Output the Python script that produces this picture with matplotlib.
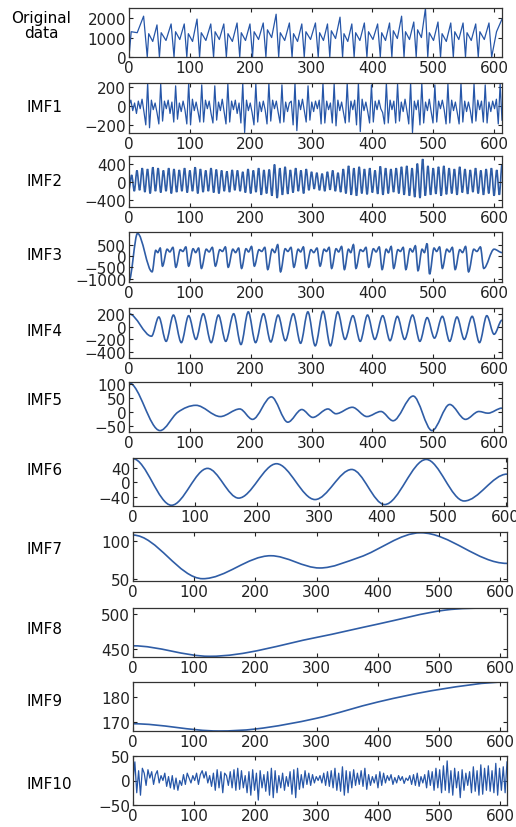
import matplotlib.pyplot as plt
import numpy as np
from matplotlib.path import Path
from matplotlib.patches import PathPatch

plt.rcParams['font.family'] = ['DejaVu Sans']
plt.rcParams['font.size'] = 11

# ---- data ----
# original data: valleys (value 0) and, per cycle, shoulder / dip / peak
orig_valleys = [0, 30, 50, 74, 95, 116, 139, 160, 182, 203, 225, 246, 268, 288, 311,
                330, 351, 370, 391, 413, 432, 452, 472, 491, 512, 533, 553, 574, 596]
orig_shoulder = [1300, 1200, 1250, 1300, 1200, 1250, 1300, 1200, 1250, 1300, 1400, 1250, 1200, 1300,
                 1250, 1350, 1200, 1250, 1300, 1250, 1350, 1300, 1400, 1250, 1200, 1300, 1250, 1300]
orig_dip = [1250, 800, 850, 900, 800, 850, 900, 800, 850, 900, 1000, 850, 800, 900,
            850, 950, 800, 850, 900, 850, 950, 900, 1000, 850, 800, 900, 850, 900]
orig_peak = [2100, 1650, 1700, 1700, 1950, 1700, 1700, 1750, 1700, 1750, 2200, 1750, 1700, 1750,
             1700, 2050, 1700, 1750, 1700, 1750, 2100, 1800, 2500, 1800, 1750, 1750, 1700, 1750]
orig_tail_x = [596, 604, 613]
orig_tail_y = [0, 1300, 1950]

imf1 = [10, 60, -50, 30, -80, 50, -30, 70, -60, -200,
        240, -230, 60, -40, 30, -70, -190, 230, -160, 50,
        -30, 60, -80, 40, -170, 210, -140, 30, -60, 50,
        -40, -190, 240, -200, 70, -50, 40, -60, -170, 220,
        -170, 60, -30, 50, -80, -180, 210, -150, 40, -50,
        70, -60, -190, 230, -170, 50, -40, 60, -80, 30,
        -180, 240, -280, 60, -50, 30, -70, -200, 230, -170,
        40, -60, 50, -40, -190, 240, -160, 60, -30, 50,
        -70, -180, 220, -170, 40, -60, 30, 50, -200, 240,
        -260, 60, -40, 70, -50, -170, 210, -150, 40, -60,
        50, -30, 60, -190, 240, -180, 50, -40, 30, -180,
        230, -210, 60, -50, 40, -70, -180, 240, -170, 50,
        -40, 60, -200, 240, -270, 70, -50, 40, -60, -180,
        220, -170, 50, -40, 60, -30, -70, -190, 240, -180,
        60, -40, 50, -180, 230, -160, 40, -60, 70, -50,
        -190, 240, -280, 50, -40, 60, -200, 240, -180, 40,
        -50, 70, -60, -180, 220, -170, 50, -30, 60, -40,
        -190, 230, -180, 60, -50, 40, -70, -190, 240, -170,
        50, -60, 40, -50, -180, 230, -160, 60, -40, 50,
        -170, 220, -180, 40, -60, 50, -30, 70, -190, 230,
        -150]

imf2_peaks = [150, 250, 300, 280, 320, 300, 250, 300, 280, 260,
              300, 250, 320, 280, 250, 300, 270, 250, 230, 260,
              250, 220, 280, 250, 300, 260, 270, 380, 300, 330,
              260, 300, 250, 280, 220, 200, 180, 220, 250, 200,
              280, 350, 300, 330, 280, 300, 250, 340, 300, 280,
              300, 330, 350, 300, 400, 500, 350, 300, 330, 350,
              300, 280, 330, 280, 260, 300, 250, 280, 300, 260]
imf2_troughs = [-200, -180, -220, -250, -200, -230, -200, -250, -220, -200,
                -230, -200, -250, -220, -200, -230, -250, -200, -220, -180,
                -200, -230, -250, -220, -280, -250, -300, -350, -280, -260,
                -230, -200, -250, -180, -150, -180, -200, -170, -200, -220,
                -250, -280, -300, -250, -270, -230, -260, -280, -250, -220,
                -250, -280, -300, -330, -350, -300, -280, -260, -300, -270,
                -250, -280, -230, -260, -220, -250, -280, -250, -300, -280]
imf2_start, imf2_end = -150, 380

imf3_trough_x = [38, 55, 77, 98, 119, 142, 163, 185, 206, 228, 249, 271, 291, 314,
                 333, 354, 373, 394, 416, 435, 455, 475, 494, 515, 536, 558, 583]
imf3_trough_y = [-700, -450, -500, -450, -550, -450, -500, -550, -450, -600, -700, -500, -550, -450,
                 -550, -600, -550, -500, -600, -550, -600, -650, -800, -550, -600, -700, -550]
imf3_hump1 = [250, 300, 280, 320, 300, 280, 300, 320, 280, 300, 320, 300, 280,
              300, 320, 300, 280, 320, 300, 280, 320, 300, 350, 300, 280, 300]
imf3_dip = [150, 180, 200, 150, 180, 200, 150, 180, 200, 150, 200, 180, 150,
            200, 180, 150, 200, 180, 150, 200, 180, 150, 200, 180, 150, 200]
imf3_hump2 = [350, 380, 400, 350, 380, 400, 350, 420, 380, 500, 380, 400, 350,
              380, 420, 500, 380, 400, 420, 380, 450, 550, 400, 380, 420, 400]
imf3_head_x, imf3_head_y = [0, 14], [-1100, 1000]
imf3_tail_x, imf3_tail_y = [600, 613], [300, 150]

imf4_x = [0, 37, 49, 61, 73, 86, 98, 110, 122, 135, 147, 159, 172, 184, 196, 208, 221, 233,
          245, 257, 270, 282, 294, 306, 319, 331, 343, 355, 368, 380, 392, 404, 417, 429,
          441, 453, 466, 478, 490, 502, 515, 527, 539, 551, 564, 576, 588, 600, 613]
imf4_y = [200, -150, 150, -230, 180, -250, 170, -200, 200, -250, 180, -230, 200, -280, 230, -250,
          200, -240, 180, -220, 200, -260, 230, -300, 240, -300, 230, -200, 170, -230, 180, -200,
          170, -220, 160, -200, 180, -230, 140, -180, 160, -230, 150, -200, 160, -250, 170, -120, 100]

imf5_x = [0, 51, 80, 110, 150, 182, 203, 234, 261, 284, 302, 327, 340, 367, 391, 414,
          434, 467, 498, 527, 553, 575, 590, 613]
imf5_y = [105, -65, 0, 25, -15, 12, -25, 55, -35, 10, -18, 12, -5, 18, -15, 3,
          -30, 58, -65, 28, -25, 3, -3, 15]

imf6_x = [0, 62, 120, 170, 231, 293, 352, 405, 472, 533, 602]
imf6_y = [66, -64, 39, -44, 52, -48, 36, -62, 64, -52, 23]

imf7_x = [0, 114, 225, 305, 370, 470, 611]
imf7_y = [108, 51, 81, 65, 79, 111, 71]

imf8_x = [0, 125, 300, 400, 510, 585, 611]
imf8_y = [455, 440, 467, 486, 506, 509, 509]

imf9_x = [0, 140, 200, 300, 400, 500, 611]
imf9_y = [169.3, 166.4, 167.2, 171.5, 178, 183, 186]

imf10 = [0, 38, -25, 20, -30, 25, 15, -10, 22, 5,
         18, -8, 12, 20, -5, 10, 0, 15, -12, 8,
         -15, 10, -18, 5, -20, 0, -10, 12, -8, 15,
         5, -5, 10, 0, 15, -8, 12, 20, 5, 18,
         -5, 10, -12, 15, -20, 22, -15, 18, -25, 15,
         10, -10, 18, -15, 22, -20, 25, -18, 20, -15,
         10, -25, 18, -30, 22, -20, 15, -40, 20, -15,
         12, -22, 18, -30, 25, -35, 20, -25, 10, -15,
         15, -20, 8, -12, 18, -28, 22, -35, 25, -18,
         12, -15, 20, -8, 15, -10, 12, -5, 8, 0,
         10, -5, 15, -10, 18, -12, 20, -15, 25, -20,
         15, -22, 28, -30, 20, -25, 18, -15, 22, -10,
         15, -8, 20, -12, 25, -18, 12, -10, 8, -5,
         12, -15, 18, -10, 15, -5, 10, 0, 12, -8,
         6, -5, 10, 0, 8, -6, 5, 0, 10, -8,
         12, -10, 15, -12, 8, -5, 12, -15, 20, -10,
         18, -20, 25, -15, 22, -25, 30, -20, 40, -25,
         20, -30, 25, -15, 18, -35, 22, -20, 15, -10,
         18, -25, 28, -22, 20, -30, 32, -28, 25, -20,
         30, -22, 20, -25, 35, -30, 25, -20, 28, -25,
         38]

names = ['Original\ndata', 'IMF1', 'IMF2', 'IMF3', 'IMF4', 'IMF5',
         'IMF6', 'IMF7', 'IMF8', 'IMF9', 'IMF10']
yticks = [[0, 1000, 2000], [-200, 0, 200], [-400, 0, 400], [-1000, -500, 0, 500],
          [-400, -200, 0, 200], [-50, 0, 50, 100], [-40, 0, 40], [50, 100],
          [450, 500], [170, 180], [-50, 0, 50]]
ylims = [(0, 2520), (-285, 240), (-545, 565), (-1150, 1060), (-490, 290), (-70, 108),
         (-66, 68), (48, 112), (439, 509), (166.4, 186), (-50, 50)]
xmaxs = [613, 613, 613, 613, 613, 613, 602, 611, 611, 611, 611]


# ---- build series ----
ox, oy = [], []
for k in range(len(orig_valleys) - 1):
    v0, v1 = orig_valleys[k], orig_valleys[k + 1]
    w = v1 - v0
    # steep rise to the shoulder, dip, peak, then a steep fall back to 0
    ox += [v0, v0 + 0.12 * w, v0 + 0.45 * w, v0 + 0.8 * w]
    oy += [0, orig_shoulder[k], orig_dip[k], orig_peak[k]]
ox += orig_tail_x
oy += orig_tail_y

i2 = [imf2_start]
for p, t in zip(imf2_peaks, imf2_troughs):
    i2 += [p, t]
i2.append(imf2_end)
i2x = np.linspace(0, 613, len(i2))

i3x, i3y = list(imf3_head_x), list(imf3_head_y)
for k in range(len(imf3_trough_x) - 1):
    t0, t1 = imf3_trough_x[k], imf3_trough_x[k + 1]
    w = t1 - t0
    i3x += [t0, t0 + 0.35 * w, t0 + 0.55 * w, t0 + 0.78 * w]
    i3y += [imf3_trough_y[k], imf3_hump1[k], imf3_dip[k], imf3_hump2[k]]
i3x.append(imf3_trough_x[-1])
i3y.append(imf3_trough_y[-1])
i3x += imf3_tail_x
i3y += imf3_tail_y


def smooth_path(xs, ys):
    # cubic bezier through the read points, flat at turning points
    xs = np.asarray(xs, float)
    ys = np.asarray(ys, float)
    n = len(xs)
    m = np.zeros(n)
    for i in range(1, n - 1):
        s0 = (ys[i] - ys[i - 1]) / (xs[i] - xs[i - 1])
        s1 = (ys[i + 1] - ys[i]) / (xs[i + 1] - xs[i])
        if s0 * s1 > 0:
            m[i] = 0.5 * (s0 + s1)
    verts = [(xs[0], ys[0])]
    codes = [Path.MOVETO]
    for i in range(n - 1):
        d = (xs[i + 1] - xs[i]) / 3.0
        verts += [(xs[i] + d, ys[i] + m[i] * d), (xs[i + 1] - d, ys[i + 1] - m[i + 1] * d),
                  (xs[i + 1], ys[i + 1])]
        codes += [Path.CURVE4] * 3
    return Path(verts, codes)


dense_col = '#2656a8'
smooth_col = '#2f5da6'

series = [
    ('line', ox, oy),
    ('line', np.linspace(0, 613, len(imf1)), imf1),
    ('curve', i2x, i2),
    ('curve', i3x, i3y),
    ('curve', imf4_x, imf4_y),
    ('curve', imf5_x, imf5_y),
    ('curve', imf6_x, imf6_y),
    ('curve', imf7_x, imf7_y),
    ('curve', imf8_x, imf8_y),
    ('curve', imf9_x, imf9_y),
    ('line', np.linspace(0, 611, len(imf10)), imf10),
]

# ---- layout (pixels) ----
W, H = 516, 828
tops = [9, 84, 157, 233, 309, 383, 459, 533, 609, 683, 757]
bots = [58, 134, 208, 283, 359, 433, 507, 582, 658, 732, 806]
lefts = [129, 129, 129, 129, 129, 129, 133, 133, 133, 133, 133]
rights = [502, 502, 502, 502, 502, 502, 507, 507, 507, 507, 507]
label_y = [26, 108, 181, 256, 332, 401, 471, 550, 630, 702, 785]

fig = plt.figure(figsize=(W / 100, H / 100), dpi=100)

for i in range(11):
    ax = fig.add_axes([lefts[i] / W, 1 - bots[i] / H,
                       (rights[i] - lefts[i]) / W, (bots[i] - tops[i]) / H])
    kind, xs, ys = series[i]
    if kind == 'line':
        ax.plot(xs, ys, color=dense_col, lw=0.9)
    else:
        ax.add_patch(PathPatch(smooth_path(xs, ys), fill=False,
                               edgecolor=smooth_col, lw=1.2))
    ax.set_xlim(0, xmaxs[i])
    ax.set_ylim(*ylims[i])
    ax.set_xticks([0, 100, 200, 300, 400, 500, 600])
    ax.set_yticks(yticks[i])
    ax.tick_params(direction='in', length=3, width=0.8, top=True, right=True,
                   pad=2, labelsize=11, colors='#222222')
    for sp in ax.spines.values():
        sp.set_color('#333333')
        sp.set_linewidth(0.9)
    if i == 0:
        fig.text(41 / W, 1 - label_y[i] / H, names[i], ha='center', va='center',
                 fontsize=11, linespacing=1.05)
    else:
        fig.text(26 / W, 1 - label_y[i] / H, names[i], ha='left', va='center', fontsize=11)

fig.savefig('out.png', dpi=100)
